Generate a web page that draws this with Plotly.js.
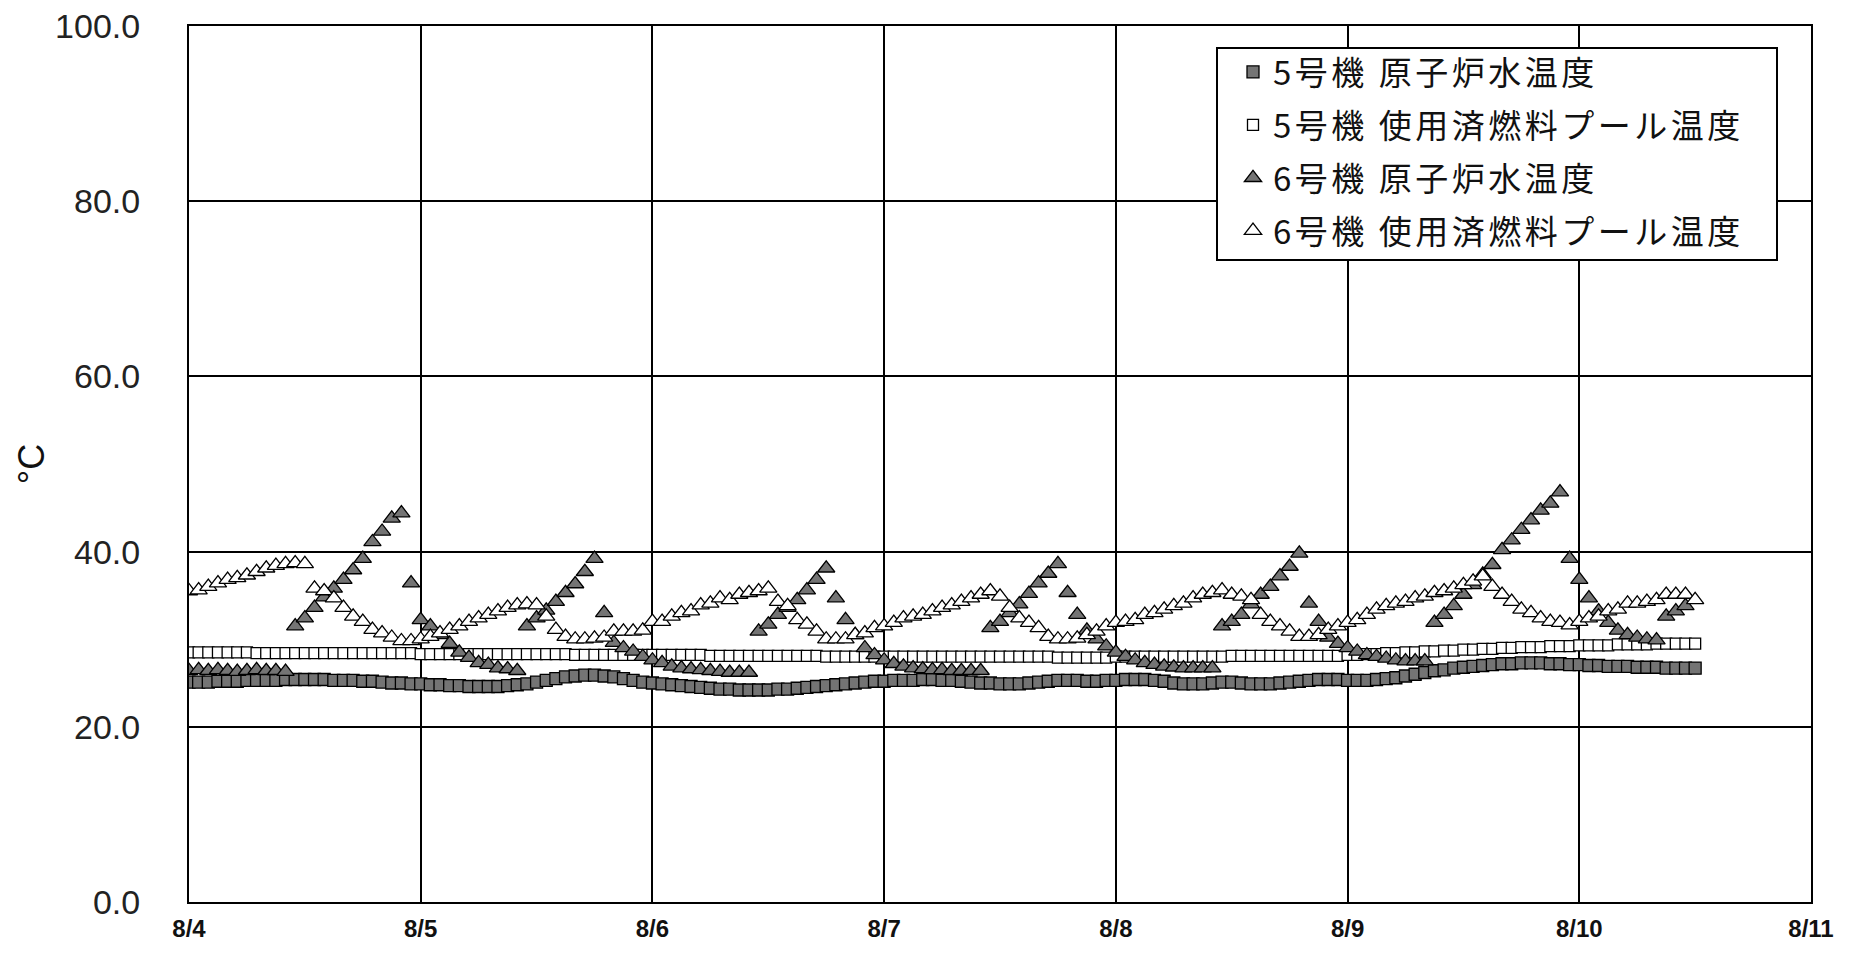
<!DOCTYPE html>
<html>
<head>
<meta charset="utf-8">
<script src="https://cdn.plot.ly/plotly-3.0.1.min.js"></script>
<style>
html,body{margin:0;padding:0;background:#fff;}
#chart{width:1854px;height:953px;}
.legendtext{letter-spacing:3.5px;}
</style>
</head>
<body>
<div id="chart"></div>
<script>
// Series names (legend)
const seriesNames = [
  '5号機 原子炉水温度',
  '5号機 使用済燃料プール温度',
  '6号機 原子炉水温度',
  '6号機 使用済燃料プール温度'
];
// Hourly readings, 2011-08-04 00:00 to 2011-08-10 12:00
const startTime = '2011-08-04T00:00:00';
const xTickLabels = ['8/4','8/5','8/6','8/7','8/8','8/9','8/10','8/11'];

const unit5Reactor = [
  25.1,25.1,25.1,25.2,25.2,25.2,25.3,25.3,25.3,25.3,25.4,25.4,
  25.4,25.4,25.4,25.3,25.3,25.3,25.2,25.2,25.1,25.0,25.0,24.9,
  24.9,24.8,24.8,24.7,24.7,24.6,24.6,24.6,24.6,24.7,24.8,24.9,
  25.1,25.3,25.5,25.7,25.8,25.9,25.9,25.8,25.7,25.5,25.3,25.1,
  25.0,24.9,24.8,24.7,24.6,24.5,24.4,24.3,24.3,24.2,24.2,24.2,
  24.2,24.3,24.3,24.4,24.5,24.6,24.7,24.8,24.9,25.0,25.1,25.2,
  25.2,25.3,25.3,25.3,25.4,25.4,25.3,25.3,25.2,25.1,25.0,25.0,
  24.9,24.9,24.9,25.0,25.1,25.2,25.3,25.3,25.3,25.2,25.2,25.3,
  25.3,25.4,25.4,25.4,25.3,25.2,25.0,24.9,24.9,24.9,25.0,25.1,
  25.1,25.0,24.9,24.9,24.9,25.0,25.1,25.2,25.3,25.4,25.4,25.4,
  25.3,25.3,25.3,25.4,25.5,25.6,25.8,26.0,26.2,26.4,26.5,26.7,
  26.8,26.9,27.0,27.1,27.2,27.2,27.3,27.3,27.3,27.2,27.2,27.1,
  27.1,27.0,27.0,26.9,26.9,26.9,26.8,26.8,26.8,26.7,26.7,26.7,26.7
];
const unit5Pool = [
  28.5,28.5,28.5,28.5,28.5,28.5,28.5,28.4,28.4,28.4,28.4,28.4,
  28.4,28.4,28.4,28.4,28.4,28.4,28.4,28.4,28.4,28.4,28.4,28.4,
  28.3,28.3,28.3,28.3,28.3,28.3,28.3,28.3,28.3,28.3,28.3,28.3,
  28.3,28.3,28.3,28.3,28.2,28.2,28.2,28.2,28.2,28.2,28.2,28.2,
  28.2,28.2,28.2,28.2,28.2,28.2,28.1,28.1,28.1,28.1,28.1,28.1,
  28.1,28.1,28.1,28.1,28.1,28.1,28.0,28.0,28.0,28.0,28.0,28.0,
  28.0,28.0,28.0,28.0,28.0,28.0,28.0,28.0,28.0,28.0,28.0,28.0,
  28.0,28.0,28.0,28.0,28.0,28.0,27.9,27.9,27.9,27.9,27.9,27.9,
  28.0,28.0,28.0,28.0,28.0,28.0,28.0,28.0,28.0,28.0,28.0,28.0,
  28.1,28.1,28.1,28.1,28.1,28.1,28.1,28.1,28.1,28.1,28.1,28.1,
  28.2,28.2,28.3,28.3,28.4,28.4,28.5,28.5,28.6,28.6,28.7,28.7,
  28.8,28.8,28.9,28.9,29.0,29.0,29.1,29.1,29.1,29.2,29.2,29.2,
  29.3,29.3,29.3,29.3,29.4,29.4,29.4,29.4,29.5,29.5,29.5,29.5,29.5
];
const unit6Reactor = [
  26.4,26.5,26.4,26.5,26.4,26.3,26.4,26.5,26.4,26.4,26.3,31.5,
  32.4,33.6,34.8,35.8,36.8,37.9,39.2,41.1,42.3,43.8,44.4,36.4,
  32.2,31.5,30.5,29.5,28.5,27.9,27.3,27.1,26.7,26.6,26.4,31.5,
  32.4,33.3,34.3,35.3,36.3,37.7,39.2,33.0,29.6,29.0,28.6,28.0,
  27.6,27.3,26.9,26.7,26.6,26.5,26.4,26.3,26.2,26.2,26.2,30.9,
  31.7,32.8,33.6,34.5,35.6,36.8,38.1,34.7,32.2,30.5,29.0,28.2,
  27.6,27.2,26.9,26.7,26.6,26.5,26.5,26.4,26.4,26.4,26.4,31.3,
  32.0,33.0,34.0,35.2,36.4,37.5,38.6,35.3,32.8,31.0,30.0,29.2,
  28.5,28.0,27.6,27.3,27.1,26.9,26.8,26.7,26.7,26.7,26.7,31.5,
  32.0,32.8,34.0,35.1,36.0,37.2,38.3,39.8,34.1,32.0,30.2,29.5,
  29.0,28.6,28.2,28.0,27.8,27.6,27.5,27.5,27.5,31.9,32.8,33.8,
  35.1,36.2,37.4,38.5,40.2,41.3,42.5,43.6,44.7,45.5,46.8,39.2,
  36.8,34.7,33.2,31.9,31.0,30.5,30.2,30.0,29.9,32.6,33.2,33.8,null
];
const unit6Pool = [
  35.5,35.6,36.0,36.4,36.8,37.0,37.3,37.7,38.1,38.4,38.6,38.7,
  38.6,35.8,35.5,34.7,33.6,32.6,32.0,31.1,30.7,30.2,29.8,29.8,
  30.0,30.3,30.7,31.1,31.5,32.0,32.4,32.8,33.2,33.6,33.9,34.0,
  33.9,32.6,31.1,30.3,30.0,30.0,30.1,30.2,30.9,30.9,30.9,31.0,
  32.0,32.0,32.6,33.0,33.2,33.9,34.1,34.7,34.5,35.1,35.3,35.5,
  35.8,34.3,33.8,32.2,31.7,30.9,30.0,30.0,30.0,30.5,30.7,31.3,
  31.5,31.9,32.4,32.6,32.8,33.2,33.6,33.9,34.3,34.7,35.1,35.5,
  34.9,33.6,32.4,31.9,31.3,30.3,30.0,30.0,30.1,30.5,30.9,31.5,
  31.9,32.0,32.2,32.8,33.0,33.4,33.8,34.1,34.7,35.1,35.3,35.6,
  35.1,34.9,34.5,32.8,32.0,31.5,30.9,30.3,30.3,30.5,31.1,31.5,
  31.9,32.2,32.8,33.4,33.8,34.1,34.3,34.7,34.9,35.3,35.5,35.8,
  36.2,36.6,37.2,36.0,35.1,34.3,33.4,33.0,32.4,32.0,31.9,31.6,
  32.0,32.4,32.6,33.2,33.4,34.1,34.1,34.3,34.5,35.1,35.1,35.1,34.5
];

// hourly timestamps matching the sample index
function hourlyTimes(n) {
  const t0 = new Date(startTime + 'Z').getTime();
  const out = [];
  for (let i = 0; i < n; i++) {
    out.push(new Date(t0 + i * 3600000).toISOString().slice(0, 16).replace('T', ' '));
  }
  return out;
}
const times = hourlyTimes(unit5Reactor.length);
const tickVals = xTickLabels.map((_, i) => hourlyTimes(i * 24 + 1)[i * 24]);

const GRAY = '#747474';
const traces = [
  {name: seriesNames[0], y: unit5Reactor, symbol: 'square', size: 12, fill: GRAY},
  {name: seriesNames[1], y: unit5Pool, symbol: 'square', size: 11, fill: '#ffffff'},
  {name: seriesNames[2], y: unit6Reactor, symbol: 'triangle-up', size: 15, fill: GRAY},
  {name: seriesNames[3], y: unit6Pool, symbol: 'triangle-up', size: 15, fill: '#ffffff'}
].map((s, i) => ({
  type: 'scatter', mode: 'markers', x: times, y: s.y, name: s.name,
  legendgroup: 'g' + i,
  marker: {symbol: s.symbol, size: s.size, color: s.fill, line: {color: '#000', width: 1.3}},
  hoverinfo: 'x+y+name'
}));

const L = 189, R = 1811, T = 26, B = 902;
const px2x = p => (p - L) / (R - L);
const px2y = p => (B - p) / (B - T);

const layout = {
  width: 1854, height: 953,
  margin: {l: L, r: 1854 - R, t: T, b: 953 - B, pad: 0},
  paper_bgcolor: '#fff', plot_bgcolor: '#fff',
  font: {family: 'Liberation Sans, Arial, sans-serif', color: '#111'},
  showlegend: true,
  xaxis: {
    type: 'date', range: [tickVals[0], tickVals[tickVals.length - 1]],
    tickmode: 'array', tickvals: tickVals, ticktext: xTickLabels,
    showgrid: true, gridcolor: '#000', gridwidth: 2,
    showline: true, linecolor: '#000', linewidth: 2, mirror: true,
    ticks: '', zeroline: false, ticklabelstandoff: 4,
    tickfont: {family: 'Liberation Sans, Arial, sans-serif', size: 24, color: '#111', weight: 'bold'}
  },
  yaxis: {
    range: [0, 100], dtick: 20, tick0: 0, tickformat: '.1f',
    showgrid: true, gridcolor: '#000', gridwidth: 2,
    showline: true, linecolor: '#000', linewidth: 2, mirror: true,
    ticks: '', zeroline: false, ticklabelstandoff: 40,
    tickfont: {family: 'Liberation Sans, Arial, sans-serif', size: 34, color: '#222'},
    title: {text: '°C', font: {family: 'Liberation Sans, Arial, sans-serif', size: 36, color: '#111'}, standoff: 0}
  },
  legend: {
    x: px2x(1233), y: px2y(44), xanchor: 'left', yanchor: 'top',
    bgcolor: 'rgba(0,0,0,0)', borderwidth: 0,
    traceorder: 'grouped', tracegroupgap: 7,
    font: {family: 'Noto Sans CJK JP, sans-serif', size: 33, color: '#111'}
  },
  shapes: [{
    type: 'rect', xref: 'paper', yref: 'paper', layer: 'above',
    x0: px2x(1217), x1: px2x(1777), y0: px2y(260), y1: px2y(48),
    line: {color: '#000', width: 2}, fillcolor: '#fff'
  }]
};

Plotly.newPlot('chart', traces, layout, {displayModeBar: false});
</script>
</body>
</html>
